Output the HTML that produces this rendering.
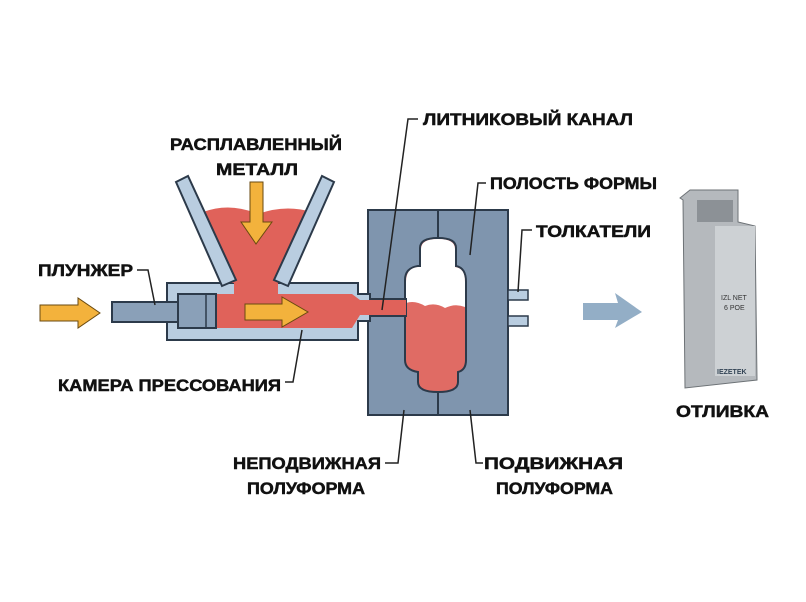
<!DOCTYPE html>
<html><head><meta charset="utf-8"><style>
html,body{margin:0;padding:0;background:#fff;}
svg{display:block}
text{font-family:"Liberation Sans",sans-serif;font-weight:bold;font-size:17px;fill:#111;stroke:#111;stroke-width:0.5px;}
</style></head><body>
<svg width="806" height="602" viewBox="0 0 806 602" xmlns="http://www.w3.org/2000/svg">
<rect width="806" height="602" fill="#fff"/>
<rect x="368" y="210" width="140" height="205" fill="#7f95ae" stroke="#2c3a4a" stroke-width="2"/>
<line x1="438" y1="210" x2="438" y2="415" stroke="#2c3a4a" stroke-width="2"/>
<rect x="508" y="290" width="20" height="10" fill="#b9cde0" stroke="#2c3a4a" stroke-width="1.5"/>
<rect x="508" y="316" width="20" height="10" fill="#b9cde0" stroke="#2c3a4a" stroke-width="1.5"/>
<path d="M405 280 Q405 268 418 266 L420 266 L420 248 Q420 238 438 238 Q456 238 456 248 L456 266 Q466 268 466 282 L466 360 Q466 370 458 372 L458 382 Q458 392 438 392 Q418 392 418 382 L418 372 Q405 370 405 360 Z" fill="#e06b64" stroke="#2c3a4a" stroke-width="2"/>
<path d="M406 282 Q406 268 418 267 L421 267 L421 249 Q421 239 438 239 Q455 239 455 249 L455 267 Q465 268 465 282 L465 307 Q455 303 445 308 Q435 302 425 306 Q415 300 406 303 Z" fill="#fff"/>
<path d="M167 283 L358 283 L358 294 L370 294 L370 299 L406 299 L406 316 L370 316 L370 321 L358 321 L358 340 L167 340 Z" fill="#b9cde0" stroke="#2c3a4a" stroke-width="2"/>
<path d="M215 294 L352 294 L360 300 L406 300 L406 315 L360 315 L352 328 L215 328 Z" fill="#e0625a"/>
<path d="M203 212 Q230 202 258 214 Q285 204 312 212 L284 283 L226 283 Z" fill="#e0625a"/>
<path d="M176 182 L188 176 L236 280 L222 286 Z" fill="#b9cde0" stroke="#2c3a4a" stroke-width="2"/>
<path d="M334 182 L322 176 L274 280 L288 286 Z" fill="#b9cde0" stroke="#2c3a4a" stroke-width="2"/>
<rect x="234" y="283" width="44" height="12" fill="#e0625a"/>
<rect x="112" y="302" width="68" height="20" fill="#8aa0b8" stroke="#2c3a4a" stroke-width="2"/>
<rect x="178" y="294" width="38" height="34" fill="#8aa0b8" stroke="#2c3a4a" stroke-width="2"/>
<line x1="206" y1="294" x2="206" y2="328" stroke="#2c3a4a" stroke-width="1.5"/>
<path d="M40 305 L78 305 L78 298 L100 313 L78 328 L78 321 L40 321 Z" fill="#f3b23c" stroke="#6a4a10" stroke-width="1"/>
<path d="M250 182 L263 182 L263 222 L272 222 L256 244 L241 222 L250 222 Z" fill="#f3b23c" stroke="#6a4a10" stroke-width="1"/>
<path d="M245 304 L282 304 L282 297 L308 312 L282 327 L282 320 L245 320 Z" fill="#f3b23c" stroke="#6a4a10" stroke-width="1"/>
<path d="M583 303 L618 303 L615 293 L642 312 L615 328 L618 320 L583 320 Z" fill="#93aec6"/>
<path d="M680 198 L690 190 L738 190 L738 222 L755 226 L757 380 L685 388 L683 200 Z" fill="#b5b9bd" stroke="#6d7276" stroke-width="1"/>
<rect x="715" y="226" width="40" height="150" fill="#cdd1d4"/>
<rect x="697" y="200" width="36" height="22" fill="#8c9196"/>
<text x="721" y="300" style="font-size:7px;font-weight:normal;fill:#333;stroke:none">IZL NET</text>
<text x="724" y="310" style="font-size:7px;font-weight:normal;fill:#333;stroke:none">6 POE</text>
<text x="717" y="374" style="font-size:7px;fill:#345;stroke:none">IEZETEK</text>
<g stroke="#222" stroke-width="1.5" fill="none">
<polyline points="137,270 148,270 155,305"/>
<polyline points="285,382 293,382 302,330"/>
<polyline points="418,119 408,119 382,310"/>
<polyline points="486,183 478,183 470,255"/>
<polyline points="532,230 522,230 518,292"/>
<polyline points="385,463 398,463 404,410"/>
<polyline points="483,463 476,463 470,410"/>
</g>
<text x="170" y="150" textLength="172" lengthAdjust="spacingAndGlyphs">РАСПЛАВЛЕННЫЙ</text>
<text x="216" y="175" textLength="82" lengthAdjust="spacingAndGlyphs">МЕТАЛЛ</text>
<text x="38" y="276" textLength="95" lengthAdjust="spacingAndGlyphs">ПЛУНЖЕР</text>
<text x="58" y="391" textLength="223" lengthAdjust="spacingAndGlyphs">КАМЕРА ПРЕССОВАНИЯ</text>
<text x="423" y="125" textLength="210" lengthAdjust="spacingAndGlyphs">ЛИТНИКОВЫЙ КАНАЛ</text>
<text x="490" y="189" textLength="167" lengthAdjust="spacingAndGlyphs">ПОЛОСТЬ ФОРМЫ</text>
<text x="536" y="237" textLength="115" lengthAdjust="spacingAndGlyphs">ТОЛКАТЕЛИ</text>
<text x="233" y="469" textLength="148" lengthAdjust="spacingAndGlyphs">НЕПОДВИЖНАЯ</text>
<text x="247" y="494" textLength="118" lengthAdjust="spacingAndGlyphs">ПОЛУФОРМА</text>
<text x="484" y="469" textLength="139" lengthAdjust="spacingAndGlyphs">ПОДВИЖНАЯ</text>
<text x="496" y="494" textLength="117" lengthAdjust="spacingAndGlyphs">ПОЛУФОРМА</text>
<text x="676" y="417" textLength="93" lengthAdjust="spacingAndGlyphs">ОТЛИВКА</text>
</svg>
</body></html>
